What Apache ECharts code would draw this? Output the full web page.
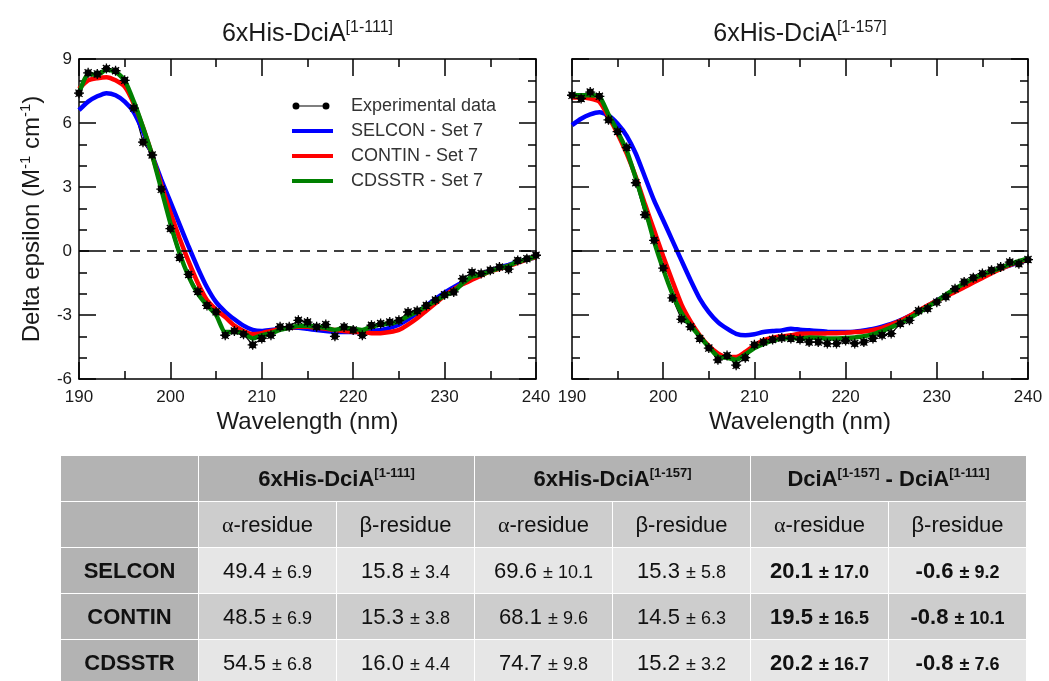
<!DOCTYPE html>
<html>
<head>
<meta charset="utf-8">
<title>DciA CD spectra</title>
<script src="https://cdn.jsdelivr.net/npm/echarts@6.0.0/dist/echarts.min.js"></script>
<style>
  html, body { margin: 0; padding: 0; background: #fff; overflow: hidden; width: 1049px; height: 681px; }
  #chart { position: absolute; left: 0; top: 0; width: 1049px; height: 681px; }
  #tbl {
    position: absolute; left: 60px; top: 455px; width: 967px;
    border-collapse: collapse; table-layout: fixed;
    font-family: "Liberation Sans", Arial, sans-serif; color: #111;
  }
  #tbl td {
    border: 1px solid #fff; height: 45px; padding: 0;
    text-align: center; vertical-align: middle; font-size: 22px; white-space: nowrap;
  }
  #tbl td.dark { background: #b3b3b3; }
  #tbl td.mid { background: #cdcdcd; }
  #tbl td.light { background: #e6e6e6; }
  #tbl td.head { font-weight: bold; }
  #tbl td.name { font-weight: bold; }
  #tbl td.bold { font-weight: bold; }
  #tbl sup { font-size: 13px; vertical-align: 9px; line-height: 0; }
  #tbl .err { font-size: 18px; }
  #tbl .greek { font-family: "Liberation Serif", "DejaVu Serif", serif; }
</style>
</head>
<body>
<div id="chart"></div>
<table id="tbl"></table>
<script>
// Wavelength grid (nm)
const wavelength = [190, 191, 192, 193, 194, 195, 196, 197, 198, 199,
                    200, 201, 202, 203, 204, 205, 206, 207, 208, 209,
                    210, 211, 212, 213, 214, 215, 216, 217, 218, 219,
                    220, 221, 222, 223, 224, 225, 226, 227, 228, 229,
                    230, 231, 232, 233, 234, 235, 236, 237, 238, 239, 240];

// 6xHis-DciA[1-111]: measured spectrum and fits (delta epsilon, M-1 cm-1)
const exp111 = [7.4, 8.35, 8.3, 8.55, 8.45, 8.0, 6.7, 5.1, 4.5, 2.9,
                1.05, -0.3, -1.1, -1.9, -2.55, -2.85, -3.95, -3.75, -3.9, -4.4,
                -4.1, -3.95, -3.55, -3.55, -3.25, -3.33, -3.55, -3.45, -4.0, -3.56,
                -3.7, -3.95, -3.48, -3.4, -3.33, -3.25, -2.86, -2.8, -2.55, -2.3,
                -2.05, -1.92, -1.3, -1.0, -1.06, -0.9, -0.75, -0.85, -0.44, -0.36, -0.2];
const selcon111 = [6.6, 7.0, 7.25, 7.4, 7.3, 7.0, 6.5, 5.6, 4.5, 3.35,
                   2.3, 1.25, 0.2, -0.8, -1.7, -2.4, -2.85, -3.2, -3.5, -3.7,
                   -3.75, -3.7, -3.65, -3.6, -3.6, -3.65, -3.7, -3.75, -3.8, -3.8,
                   -3.8, -3.8, -3.75, -3.7, -3.6, -3.45, -3.2, -2.9, -2.55, -2.25,
                   -1.95, -1.7, -1.45, -1.25, -1.08, -0.92, -0.78, -0.65, -0.52, -0.4, -0.3];
const contin111 = [7.6, 8.0, 8.1, 8.15, 8.0, 7.7, 6.9, 5.8, 4.5, 3.1,
                   1.8, 0.6, -0.5, -1.5, -2.3, -2.75, -3.1, -3.5, -3.75, -3.9,
                   -3.85, -3.75, -3.65, -3.6, -3.55, -3.55, -3.6, -3.65, -3.7, -3.75,
                   -3.8, -3.8, -3.85, -3.85, -3.8, -3.7, -3.45, -3.15, -2.8, -2.45,
                   -2.1, -1.8, -1.55, -1.35, -1.15, -0.95, -0.83, -0.7, -0.55, -0.4, -0.3];
const cdsstr111 = [7.4, 8.3, 8.25, 8.5, 8.4, 8.0, 7.0, 5.8, 4.5, 2.9,
                   1.3, -0.1, -1.2, -2.0, -2.55, -3.0, -3.8, -3.8, -3.85, -4.1,
                   -3.95, -3.85, -3.7, -3.6, -3.5, -3.5, -3.55, -3.6, -3.7, -3.6,
                   -3.65, -3.7, -3.55, -3.45, -3.4, -3.3, -3.05, -2.85, -2.6, -2.35,
                   -2.1, -1.9, -1.5, -1.2, -1.1, -0.95, -0.8, -0.7, -0.5, -0.4, -0.25];

// 6xHis-DciA[1-157]: measured spectrum and fits
const exp157 = [7.3, 7.15, 7.45, 7.25, 6.15, 5.6, 4.85, 3.2, 1.7, 0.5,
                -0.8, -2.2, -3.2, -3.55, -4.1, -4.55, -5.1, -4.9, -5.35, -5.0,
                -4.4, -4.27, -4.15, -4.08, -4.1, -4.15, -4.27, -4.27, -4.34, -4.34,
                -4.2, -4.34, -4.27, -4.1, -3.95, -3.87, -3.4, -3.25, -2.8, -2.7,
                -2.4, -2.15, -1.77, -1.45, -1.25, -1.06, -0.9, -0.75, -0.52, -0.6, -0.4];
const selcon157 = [5.9, 6.2, 6.4, 6.5, 6.36, 5.97, 5.4, 4.56, 3.47, 2.37,
                   1.44, 0.5, -0.44, -1.37, -2.23, -2.86, -3.33, -3.64, -3.88, -3.95,
                   -3.9, -3.8, -3.75, -3.72, -3.64, -3.69, -3.72, -3.75, -3.78, -3.8,
                   -3.8, -3.78, -3.72, -3.65, -3.55, -3.42, -3.25, -3.05, -2.82, -2.57,
                   -2.32, -2.07, -1.82, -1.58, -1.36, -1.16, -0.98, -0.82, -0.67, -0.53, -0.4];
const contin157 = [7.2, 7.2, 7.15, 7.0, 6.3, 5.5, 4.56, 3.47, 2.2, 0.97,
                   -0.25, -1.4, -2.5, -3.3, -3.95, -4.45, -4.8, -4.97, -4.97, -4.73,
                   -4.42, -4.19, -4.06, -4.0, -3.95, -3.88, -3.87, -3.87, -3.86, -3.85,
                   -3.83, -3.8, -3.77, -3.7, -3.6, -3.45, -3.27, -3.05, -2.8, -2.55,
                   -2.33, -2.12, -1.92, -1.7, -1.48, -1.26, -1.04, -0.84, -0.66, -0.5, -0.4];
const cdsstr157 = [7.3, 7.3, 7.3, 7.25, 6.4, 5.6, 4.7, 3.4, 2.0, 0.45,
                   -0.85, -2.0, -2.9, -3.5, -4.0, -4.5, -4.95, -5.0, -5.1, -4.85,
                   -4.55, -4.35, -4.2, -4.12, -4.08, -4.1, -4.05, -4.07, -4.1, -4.1,
                   -4.08, -4.05, -4.0, -3.9, -3.75, -3.58, -3.38, -3.15, -2.9, -2.62,
                   -2.35, -2.05, -1.77, -1.52, -1.3, -1.12, -0.95, -0.8, -0.62, -0.48, -0.35];

// Axis ticks
const xTicks = [190, 200, 210, 220, 230, 240];
const yTicks = [-6, -3, 0, 3, 6, 9];

// Secondary structure estimates (%), value and uncertainty
const methods = ['SELCON', 'CONTIN', 'CDSSTR'];
const alpha111 = [49.4, 48.5, 54.5];
const alpha111Err = [6.9, 6.9, 6.8];
const beta111 = [15.8, 15.3, 16.0];
const beta111Err = [3.4, 3.8, 4.4];
const alpha157 = [69.6, 68.1, 74.7];
const alpha157Err = [10.1, 9.6, 9.8];
const beta157 = [15.3, 14.5, 15.2];
const beta157Err = [5.8, 6.3, 3.2];
const alphaDiff = [20.1, 19.5, 20.2];
const alphaDiffErr = [17.0, 16.5, 16.7];
const betaDiff = [-0.6, -0.8, -0.8];
const betaDiffErr = [9.2, 10.1, 7.6];

const fitNames = ['SELCON - Set 7', 'CONTIN - Set 7', 'CDSSTR - Set 7'];
const fitColors = ['#0000ff', '#ff0000', '#008000'];
const expName = 'Experimental data';

const ink = '#1a1a1a';
const font = '"Liberation Sans", Arial, sans-serif';

// Filled dot with short spikes, used for the measured points
const starSymbol = 'path://M1.4,5a3.6,3.6 0 1,1 7.2,0a3.6,3.6 0 1,1 -7.2,0z' +
  'M0,4.35h10v1.3h-10z' +
  'M4.35,0h1.3v10h-1.3z' +
  'M1.92,1.0L9.0,8.08L8.08,9.0L1.0,1.92z' +
  'M8.08,1.0L9.0,1.92L1.92,9.0L1.0,8.08z';

// Legend icons: a 54x10 box, drawn part on the left
const expIcon = 'path://M0,0h0.01v0.01h-0.01zM53.99,9.99h0.01v0.01h-0.01z' +
  'M0.5,5a3.5,3.5 0 1,1 7,0a3.5,3.5 0 1,1 -7,0z' +
  'M30.5,5a3.5,3.5 0 1,1 7,0a3.5,3.5 0 1,1 -7,0z' +
  'M7.5,4.4h23v1.2h-23z';
const lineIcon = 'path://M0,0h0.01v0.01h-0.01zM53.99,9.99h0.01v0.01h-0.01z' +
  'M0,3h41v4h-41z';

function pairs(xs, ys) {
  return xs.map(function (x, i) { return [x, ys[i]]; });
}

const tickStyle = { color: '#000', width: 1.5 };

function xAxisBottom(gridIndex) {
  return {
    type: 'value', gridIndex: gridIndex, position: 'bottom',
    min: xTicks[0], max: xTicks[xTicks.length - 1], interval: xTicks[1] - xTicks[0],
    axisLine: { show: true, onZero: false, lineStyle: tickStyle },
    axisTick: { show: true, inside: true, length: 17, lineStyle: tickStyle },
    minorTick: { show: true, splitNumber: 2, length: 8, lineStyle: tickStyle },
    splitLine: { show: false }, minorSplitLine: { show: false },
    axisLabel: { show: true, margin: 10, fontSize: 17, color: ink, fontFamily: font },
    name: 'Wavelength (nm)', nameLocation: 'middle', nameGap: 31,
    nameTextStyle: { fontSize: 24, color: ink, fontFamily: font }
  };
}

function xAxisTop(gridIndex, label) {
  return {
    type: 'value', gridIndex: gridIndex, position: 'top',
    min: xTicks[0], max: xTicks[xTicks.length - 1], interval: xTicks[1] - xTicks[0],
    axisLine: { show: true, onZero: false, lineStyle: tickStyle },
    axisTick: { show: true, inside: true, length: 17, lineStyle: tickStyle },
    minorTick: { show: true, splitNumber: 2, length: 8, lineStyle: tickStyle },
    splitLine: { show: false }, minorSplitLine: { show: false },
    axisLabel: { show: false },
    name: '{m|6xHis-DciA}{s|' + label + '}', nameLocation: 'middle', nameGap: 12,
    nameTextStyle: {
      color: ink, fontFamily: font,
      rich: {
        m: { fontSize: 25, lineHeight: 27, verticalAlign: 'bottom', color: ink, fontFamily: font },
        s: { fontSize: 16, lineHeight: 16, verticalAlign: 'top', padding: [0, 0, 12, 0], color: ink, fontFamily: font }
      }
    }
  };
}

function yAxisSide(gridIndex, position, withLabels) {
  const axis = {
    type: 'value', gridIndex: gridIndex, position: position,
    min: yTicks[0], max: yTicks[yTicks.length - 1], interval: yTicks[1] - yTicks[0],
    axisLine: { show: true, onZero: false, lineStyle: tickStyle },
    axisTick: { show: true, inside: true, length: 17, lineStyle: tickStyle },
    minorTick: { show: true, splitNumber: 3, length: 8, lineStyle: tickStyle },
    splitLine: { show: false }, minorSplitLine: { show: false },
    axisLabel: { show: withLabels, margin: 7, fontSize: 17, color: ink, fontFamily: font }
  };
  if (withLabels) {
    axis.name = '{n|Delta epsilon (M}{s|-1}{n| cm}{s|-1}{n|)}';
    axis.nameLocation = 'middle';
    axis.nameGap = 35;
    axis.nameTextStyle = {
      color: ink, fontFamily: font,
      rich: {
        n: { fontSize: 24, lineHeight: 26, verticalAlign: 'bottom', color: ink, fontFamily: font },
        s: { fontSize: 15, lineHeight: 15, verticalAlign: 'top', padding: [0, 0, 13, 0], color: ink, fontFamily: font }
      }
    };
  }
  return axis;
}

const zeroLine = {
  silent: true, symbol: ['none', 'none'], label: { show: false },
  lineStyle: { type: [10, 7], color: '#000', width: 1.5 },
  emphasis: { disabled: true },
  data: [{ yAxis: 0 }]
};

function panelSeries(axisIndex, expValues, fits) {
  const list = [{
    name: expName, type: 'line', xAxisIndex: axisIndex, yAxisIndex: axisIndex,
    data: pairs(wavelength, expValues),
    symbol: starSymbol, symbolSize: 10, showSymbol: true,
    color: '#000', itemStyle: { color: '#000', borderWidth: 0 },
    lineStyle: { width: 1.2, color: '#000' },
    markLine: zeroLine
  }];
  fits.forEach(function (values, k) {
    list.push({
      name: fitNames[k], type: 'line', xAxisIndex: axisIndex, yAxisIndex: axisIndex,
      data: pairs(wavelength, values), symbol: 'none', smooth: 0.2,
      color: fitColors[k], lineStyle: { width: 4.5, color: fitColors[k] }
    });
  });
  return list;
}

const chart = echarts.init(document.getElementById('chart'), null, { renderer: 'canvas' });
chart.setOption({
  animation: false,
  backgroundColor: '#fff',
  textStyle: { fontFamily: font },
  grid: [
    { left: 79, top: 59, width: 457, height: 320, outerBoundsMode: 'none', containLabel: false },
    { left: 572, top: 59, width: 456, height: 320, outerBoundsMode: 'none', containLabel: false }
  ],
  xAxis: [xAxisBottom(0), xAxisTop(0, '[1-111]'), xAxisBottom(1), xAxisTop(1, '[1-157]')],
  yAxis: [yAxisSide(0, 'left', true), yAxisSide(0, 'right', false),
          yAxisSide(1, 'left', false), yAxisSide(1, 'right', false)],
  legend: {
    orient: 'vertical', left: 292, top: 97, padding: 0,
    itemWidth: 54, itemHeight: 10, itemGap: 7,
    selectedMode: false,
    itemStyle: { borderWidth: 0 },
    textStyle: { fontSize: 18, color: '#333', fontFamily: font },
    data: [
      { name: expName, icon: expIcon },
      { name: fitNames[0], icon: lineIcon },
      { name: fitNames[1], icon: lineIcon },
      { name: fitNames[2], icon: lineIcon }
    ]
  },
  series: panelSeries(0, exp111, [selcon111, contin111, cdsstr111])
    .concat(panelSeries(2, exp157, [selcon157, contin157, cdsstr157]))
});

// Summary table of secondary structure content
function cell(value, err, bold) {
  return '<td class="' + (bold ? 'bold ' : '') + '%BG%">' + value.toFixed(1) +
         ' <span class="err">\u00b1 ' + err.toFixed(1) + '</span></td>';
}
const alphaHead = '<span class="greek">\u03b1</span>-residue';
const betaHead = '\u03b2-residue';
let html = '<colgroup>' + '<col style="width:138px">'.repeat(7) + '</colgroup>';
html += '<tr><td class="dark"></td>' +
  '<td class="dark head" colspan="2">6xHis-DciA<sup>[1-111]</sup></td>' +
  '<td class="dark head" colspan="2">6xHis-DciA<sup>[1-157]</sup></td>' +
  '<td class="dark head" colspan="2">DciA<sup>[1-157]</sup> - DciA<sup>[1-111]</sup></td></tr>';
html += '<tr><td class="dark"></td>';
for (let k = 0; k < 3; k++) {
  html += '<td class="mid">' + alphaHead + '</td><td class="mid">' + betaHead + '</td>';
}
html += '</tr>';
methods.forEach(function (m, i) {
  const bg = i % 2 === 0 ? 'light' : 'mid';
  const row = '<tr><td class="dark name">' + m + '</td>' +
    cell(alpha111[i], alpha111Err[i], false) + cell(beta111[i], beta111Err[i], false) +
    cell(alpha157[i], alpha157Err[i], false) + cell(beta157[i], beta157Err[i], false) +
    cell(alphaDiff[i], alphaDiffErr[i], true) + cell(betaDiff[i], betaDiffErr[i], true) + '</tr>';
  html += row.split('%BG%').join(bg);
});
document.getElementById('tbl').innerHTML = html;
</script>
</body>
</html>
